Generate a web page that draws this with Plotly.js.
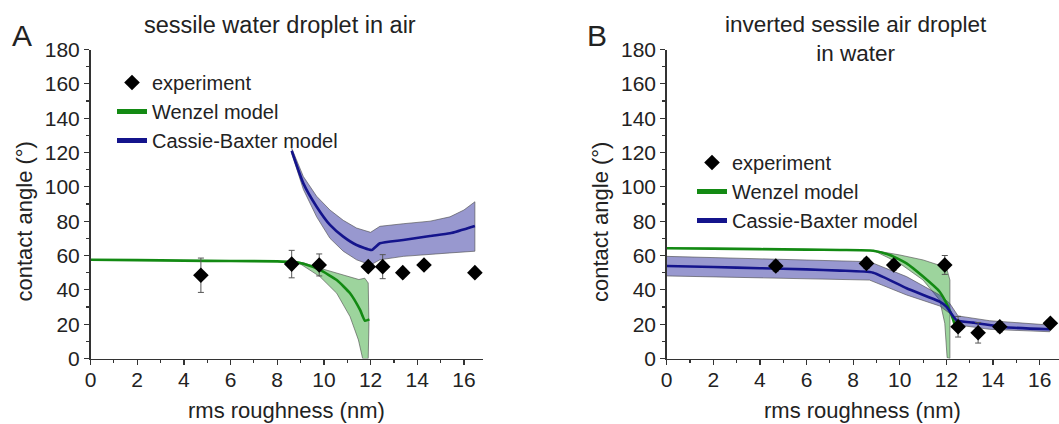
<!DOCTYPE html>
<html>
<head>
<meta charset="utf-8">
<script src="https://cdn.plot.ly/plotly-3.0.1.min.js"></script>
<style>
html,body{margin:0;padding:0;background:#fff;}
#chart{width:1059px;height:424px;}
</style>
</head>
<body>
<div id="chart"></div>
<script>
// ---------- Panel A: sessile water droplet in air ----------
const expAX = [4.73, 8.62, 9.80, 11.90, 12.52, 13.38, 14.29, 16.47];
const expAY = [48.5, 55.0, 54.5, 53.5, 53.5, 50.0, 54.5, 50.0];
const expAErr = [10, 8, 6.4, 2, 7, 2, 2, 2];

const wzAX = [0, 2, 4, 6, 8, 8.6, 9.12, 9.83, 10.55, 11.12, 11.55, 11.76, 11.95];
const wzAY = [57.5, 57.3, 57.0, 56.8, 56.6, 56.3, 55.2, 51.6, 45.7, 38.0, 28.3, 22.0, 22.8];
const wzAUpX = [8.6, 9.12, 9.83, 10.55, 11.12, 11.5, 11.75, 11.9, 11.93, 11.9];
const wzAUpY = [56.6, 55.8, 52.6, 49.8, 47.2, 46.0, 46.8, 44.0, 20.0, 0];
const wzALoX = [8.6, 8.83, 9.83, 10.55, 11.12, 11.48, 11.66];
const wzALoY = [56.6, 56.5, 47.7, 38.0, 24.4, 10.8, 0];

const cbAX = [8.62, 9.12, 9.69, 10.26, 10.83, 11.40, 12.05, 12.40, 13.40, 14.55, 15.40, 16.47];
const cbAY = [121, 102, 88.4, 77.8, 71.0, 66.1, 63.2, 67.1, 69.0, 71.4, 72.9, 77.2];
const cbAUpX = [8.62, 9.12, 9.69, 10.26, 10.83, 11.40, 12.0, 12.4, 13.4, 14.55, 15.4, 16.0, 16.47];
const cbAUpY = [122.5, 106, 94.5, 86.5, 80.5, 76.0, 73.5, 77.0, 78.5, 80.0, 82.5, 86.5, 91.3];
const cbALoX = [8.62, 9.12, 9.69, 10.26, 10.83, 11.40, 12.0, 12.4, 13.4, 14.55, 15.4, 16.47];
const cbALoY = [119.5, 98.5, 82.5, 70.0, 62.5, 57.5, 54.5, 57.5, 59.5, 60.5, 61.5, 62.5];

// ---------- Panel B: inverted sessile air droplet in water ----------
const expBX = [4.68, 8.57, 9.74, 11.93, 12.50, 13.36, 14.29, 16.46];
const expBY = [53.9, 55.4, 54.5, 54.5, 18.5, 15.0, 18.5, 20.5];
const expBErr = [3, 3, 3, 5.5, 6, 6, 3, 2];

const wzBX = [0, 2, 4, 6, 7.43, 8.86, 9.57, 10.29, 11.0, 11.71, 12.0, 12.22, 12.35];
const wzBY = [64.2, 64.0, 63.7, 63.4, 63.2, 62.8, 60.3, 55.4, 47.7, 38.9, 32.2, 25.3, 20.0];
const wzBUpX = [8.86, 10.0, 11.0, 12.0, 12.15, 12.15];
const wzBUpY = [63.0, 60.3, 57.4, 53.0, 45.7, 0];
const wzBLoX = [8.86, 10.0, 11.0, 11.71, 11.93, 12.03];
const wzBLoY = [63.0, 55.4, 45.7, 34.0, 20.5, 0.5];

const cbBX = [0, 2, 4, 6, 7.43, 8.86, 10.29, 11.71, 12.0, 12.43, 13.14, 14.57, 16.43];
const cbBY = [53.9, 53.3, 52.6, 51.9, 51.2, 50.0, 40.9, 33.1, 30.2, 22.4, 20.9, 18.2, 17.0];
const cbBUpX = [0, 4, 8.7, 10.29, 11.71, 12.14, 12.5, 13.86, 16.43];
const cbBUpY = [59.5, 58.2, 56.4, 47.7, 37.0, 32.2, 24.8, 22.0, 19.5];
const cbBLoX = [0, 4, 8.7, 10.29, 11.71, 12.14, 12.5, 13.86, 16.43];
const cbBLoY = [48.1, 47.0, 45.7, 37.0, 30.6, 26.3, 19.5, 17.0, 15.6];

// tick labels
const xTickVals = [0, 2, 4, 6, 8, 10, 12, 14, 16];
const yTickVals = [0, 20, 40, 60, 80, 100, 120, 140, 160, 180];

// ---------- styling ----------
const FONT = '"Liberation Sans", Arial, sans-serif';
const TXT = '#222';
const GREEN = '#138a13';
const BLUE = '#14148c';
const GREEN_FILL = 'rgba(60,170,60,0.5)';
const BLUE_FILL = 'rgba(50,50,160,0.5)';
const EDGE = 'rgba(80,80,80,0.8)';

function band(upX, upY, loX, loY, fill, xa, ya) {
  return {
    x: upX.concat(loX.slice().reverse()),
    y: upY.concat(loY.slice().reverse()),
    xaxis: xa, yaxis: ya,
    type: 'scatter', mode: 'lines', fill: 'toself', fillcolor: fill,
    line: {color: EDGE, width: 0.8},
    hoverinfo: 'skip', showlegend: false
  };
}
function curve(x, y, color, name, xa, ya, lg) {
  return {
    x: x, y: y, xaxis: xa, yaxis: ya, type: 'scatter', mode: 'lines',
    line: {color: color, width: 2.6, shape: 'spline', smoothing: 0.5},
    name: name, legend: lg, legendrank: name.indexOf('Wenzel') === 0 ? 2 : 3
  };
}
function exp(x, y, e, xa, ya, lg) {
  return {
    x: x, y: y, xaxis: xa, yaxis: ya, type: 'scatter', mode: 'markers',
    marker: {symbol: 'diamond', size: 12, color: '#000'},
    error_y: {type: 'data', array: e, visible: true, color: '#555', thickness: 1, width: 3},
    name: 'experiment', legend: lg, legendrank: 1
  };
}

const data = [
  band(wzAUpX, wzAUpY, wzALoX, wzALoY, GREEN_FILL, 'x', 'y'),
  band(cbAUpX, cbAUpY, cbALoX, cbALoY, BLUE_FILL, 'x', 'y'),
  curve(wzAX, wzAY, GREEN, 'Wenzel model', 'x', 'y', 'legend'),
  curve(cbAX, cbAY, BLUE, 'Cassie-Baxter model', 'x', 'y', 'legend'),
  exp(expAX, expAY, expAErr, 'x', 'y', 'legend'),

  band(wzBUpX, wzBUpY, wzBLoX, wzBLoY, GREEN_FILL, 'x2', 'y2'),
  band(cbBUpX, cbBUpY, cbBLoX, cbBLoY, BLUE_FILL, 'x2', 'y2'),
  curve(wzBX, wzBY, GREEN, 'Wenzel model', 'x2', 'y2', 'legend2'),
  curve(cbBX, cbBY, BLUE, 'Cassie-Baxter model', 'x2', 'y2', 'legend2'),
  exp(expBX, expBY, expBErr, 'x2', 'y2', 'legend2')
];

function xax(domain, anchor) {
  return {
    domain: domain, anchor: anchor, range: [0, 16.83],
    tickvals: xTickVals, ticktext: xTickVals.map(String),
    ticks: 'outside', ticklen: 5, tickwidth: 1.3, tickcolor: '#333',
    minor: {dtick: 1, ticks: 'outside', ticklen: 3, tickwidth: 1.2, tickcolor: '#333'},
    showline: true, linecolor: '#333', linewidth: 1.5,
    showgrid: false, zeroline: false, ticklabelstandoff: -3,
    tickfont: {family: FONT, size: 21, color: TXT}, fixedrange: true
  };
}
function yax(anchor) {
  return {
    domain: [0.15448, 0.88325], anchor: anchor, range: [0, 180],
    tickvals: yTickVals, ticktext: yTickVals.map(String),
    ticks: 'outside', ticklen: 5, tickwidth: 1.3, tickcolor: '#333',
    minor: {dtick: 10, ticks: 'outside', ticklen: 3, tickwidth: 1.2, tickcolor: '#333'},
    showline: true, linecolor: '#333', linewidth: 1.5,
    showgrid: false, zeroline: false,
    tickfont: {family: FONT, size: 21, color: TXT}, fixedrange: true
  };
}
function ann(text, x, y, size, angle) {
  return {text: text, xref: 'paper', yref: 'paper', x: x / 1059, y: 1 - y / 424,
          xanchor: 'center', yanchor: 'middle', showarrow: false, textangle: angle || 0,
          font: {family: FONT, size: size, color: TXT}};
}

const legendStyle = {
  font: {family: FONT, size: 20, color: TXT}, bgcolor: 'rgba(0,0,0,0)',
  borderwidth: 0, xanchor: 'left', yanchor: 'top', tracegroupgap: 0, itemsizing: 'constant'
};

const layout = {
  width: 1059, height: 424,
  margin: {l: 0, r: 0, t: 0, b: 0},
  paper_bgcolor: '#fff', plot_bgcolor: 'rgba(0,0,0,0)',
  showlegend: true,
  xaxis: xax([0.08546, 0.45637], 'y'),
  yaxis: yax('x'),
  xaxis2: xax([0.62956, 1.0], 'y2'),
  yaxis2: yax('x2'),
  legend: Object.assign({x: 112 / 1059, y: 1 - 63 / 424}, legendStyle),
  legend2: Object.assign({x: 692 / 1059, y: 1 - 143 / 424}, legendStyle),
  annotations: [
    ann('A', 22, 36, 30),
    ann('B', 597, 36, 30),
    ann('sessile water droplet in air', 279.5, 25, 23.5),
    ann('inverted sessile air droplet<br>in water', 856, 39, 22.5),
    ann('rms roughness (nm)', 286, 410, 22),
    ann('rms roughness (nm)', 862, 410, 22),
    ann('contact angle (°)', 23.5, 222, 22, -90),
    ann('contact angle (°)', 600, 222, 22, -90)
  ]
};

Plotly.newPlot('chart', data, layout, {displayModeBar: false, staticPlot: true});
</script>
</body>
</html>
